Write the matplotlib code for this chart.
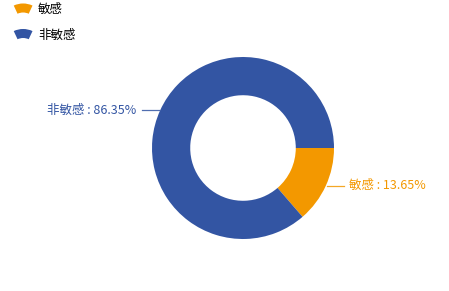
import numpy as np
import matplotlib
matplotlib.use('Agg')
import matplotlib.pyplot as plt
from matplotlib.patches import Wedge
from matplotlib.legend_handler import HandlerPatch

plt.rcParams['font.family'] = ['Noto Sans CJK SC', 'DejaVu Sans']

# data
labels = ['敏感', '非敏感']
values = [13.65, 86.35]
colors = ['#f39800', '#3355a3']

W, H = 449, 291
fig = plt.figure(figsize=(W / 100, H / 100), dpi=100)

# pie centre (243,148) px, outer radius 91 px
cx, cy, r = 243, 148, 91
ax = fig.add_axes([(cx - r) / W, (H - cy - r) / H, 2 * r / W, 2 * r / H])
wedges, _ = ax.pie(values, colors=colors, startangle=0, counterclock=False,
                   radius=1, wedgeprops=dict(width=0.42, linewidth=0))
ax.set_xlim(-1, 1)
ax.set_ylim(-1, 1)
ax.set_aspect('equal')
ax.axis('off')

# labels with short leader lines
for w, lab, val, col in zip(wedges, labels, values, colors):
    mid = np.deg2rad((w.theta1 + w.theta2) / 2)
    x0, y0 = np.cos(mid), np.sin(mid)
    side = 1 if x0 > 0 else -1
    ax.plot([x0 + side * 0.01, x0 + side * 0.2], [y0, y0], color=col, lw=0.9,
            clip_on=False, alpha=0.85)
    ax.text(x0 + side * 0.26, y0, f'{lab} : {val:.2f}%', color=col,
            fontsize=9, ha='left' if side > 0 else 'right', va='center')


def make_arc(legend, orig_handle, xdescent, ydescent, width, height, fontsize):
    R, t, a = 16, 6.5, 25
    y0 = height / 2 - ydescent - 12.3
    return Wedge((width / 2 - xdescent, y0), R, 90 - a, 90 + a, width=t)


handles = [Wedge((0, 0), 1, 0, 90, facecolor=c) for c in colors]
fig.legend(handles, labels, loc='upper left',
           bbox_to_anchor=(15 / W, 1 - 3 / H), frameon=False, fontsize=9,
           borderpad=0, borderaxespad=0, handlelength=1.3, handletextpad=0.55,
           labelspacing=1.0,
           handler_map={Wedge: HandlerPatch(patch_func=make_arc)})

fig.savefig('out.png', dpi=100)
